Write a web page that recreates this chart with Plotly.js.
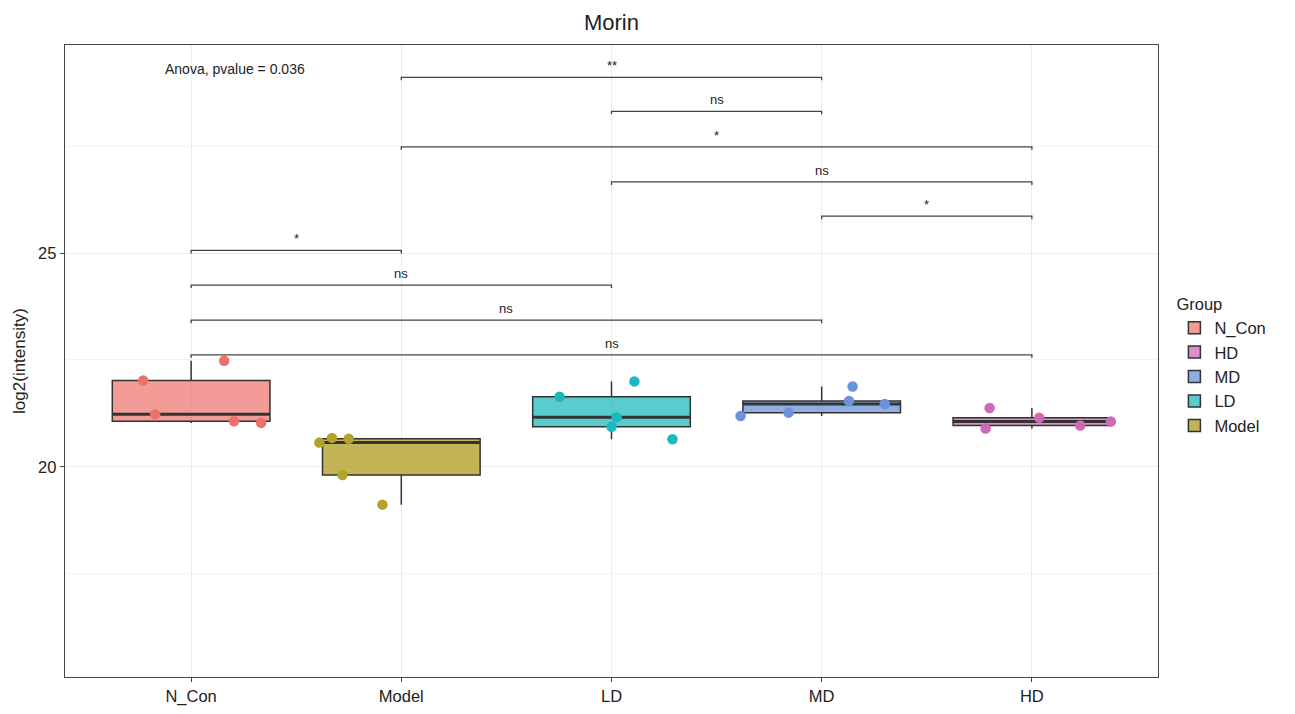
<!DOCTYPE html>
<html>
<head>
<meta charset="utf-8">
<script src="https://cdn.plot.ly/plotly-3.0.1.min.js"></script>
<style>html,body{margin:0;padding:0;background:#fff;}#chart{width:1295px;height:714px;}</style>
</head>
<body>
<div id="chart"></div>
<script>
// Categories on the x axis (display order)
const categories = ['N_Con', 'Model', 'LD', 'MD', 'HD'];
// Legend order
const legendOrder = ['N_Con', 'HD', 'MD', 'LD', 'Model'];

// Observed values (log2 intensity) per group
const nconValues  = [22.48, 22.02, 21.23, 21.07, 21.03];
const modelValues = [20.57, 20.68, 20.66, 19.81, 19.12];
const ldValues    = [21.64, 22.00, 21.16, 20.94, 20.65];
const mdValues    = [21.19, 21.27, 21.54, 21.88, 21.47];
const hdValues    = [21.38, 20.90, 21.15, 20.97, 21.06];

// Horizontal jitter of each point (category units)
const nconJitter  = [0.157, -0.228, -0.171, 0.204, 0.333];
const modelJitter = [-0.39, -0.33, -0.25, -0.28, -0.09];
const ldJitter    = [-0.247, 0.109, 0.024, 0.0, 0.29];
const mdJitter    = [-0.386, -0.158, 0.13, 0.147, 0.30];
const hdJitter    = [-0.201, -0.22, 0.035, 0.23, 0.376];

// Pairwise comparison brackets
const bracketFrom  = ['Model', 'LD', 'Model', 'LD', 'MD', 'N_Con', 'N_Con', 'N_Con', 'N_Con'];
const bracketTo    = ['MD', 'MD', 'HD', 'HD', 'HD', 'Model', 'LD', 'MD', 'HD'];
const bracketY     = [29.105, 28.31, 27.48, 26.66, 25.86, 25.06, 24.25, 23.43, 22.62];
const bracketLabel = ['**', 'ns', '*', 'ns', '*', '*', 'ns', 'ns', 'ns'];

const anovaText = 'Anova, pvalue = 0.036';

const groups = {
  N_Con: {values: nconValues, jitter: nconJitter, color: '#EC716B', fill: 'rgba(236,113,107,0.7)'},
  Model: {values: modelValues, jitter: modelJitter, color: '#B4A22C', fill: 'rgba(180,162,44,0.8)'},
  LD:    {values: ldValues, jitter: ldJitter, color: '#1BB9BE', fill: 'rgba(27,185,190,0.72)'},
  MD:    {values: mdValues, jitter: mdJitter, color: '#6A93D9', fill: 'rgba(106,147,217,0.75)'},
  HD:    {values: hdValues, jitter: hdJitter, color: '#CE69B8', fill: 'rgba(206,105,184,0.75)'}
};

function median(arr) {
  const s = arr.slice().sort(function (a, b) { return a - b; });
  const n = s.length;
  return n % 2 ? s[(n - 1) / 2] : (s[n / 2 - 1] + s[n / 2]) / 2;
}

const FONT = 'Liberation Sans, Arial, Helvetica, sans-serif';
const BOXW = 0.75;
const traces = [];

legendOrder.forEach(function (name, rank) {
  const g = groups[name];
  const idx = categories.indexOf(name);
  traces.push({
    type: 'box',
    name: name,
    x: g.values.map(function () { return idx; }),
    y: g.values,
    width: BOXW,
    boxpoints: false,
    quartilemethod: 'inclusive',
    fillcolor: g.fill,
    line: {color: '#333333', width: 1.5},
    whiskerwidth: 0,
    legendrank: rank + 1,
    hoverinfo: 'y'
  });
});

// thicker median bars (ggplot style)
categories.forEach(function (name) {
  const g = groups[name];
  const idx = categories.indexOf(name);
  const m = median(g.values);
  traces.push({
    type: 'scatter', mode: 'lines',
    x: [idx - BOXW / 2, idx + BOXW / 2], y: [m, m],
    line: {color: '#333333', width: 3},
    showlegend: false, hoverinfo: 'skip'
  });
});

categories.forEach(function (name) {
  const g = groups[name];
  const idx = categories.indexOf(name);
  traces.push({
    type: 'scatter',
    mode: 'markers',
    name: name + ' points',
    x: g.jitter.map(function (j) { return idx + j; }),
    y: g.values,
    marker: {color: g.color, size: 10.5},
    showlegend: false,
    hoverinfo: 'y'
  });
});

const shapes = [];
const annotations = [];
const tick = 0.07;
bracketFrom.forEach(function (from, i) {
  const x1 = categories.indexOf(from);
  const x2 = categories.indexOf(bracketTo[i]);
  const y = bracketY[i];
  shapes.push({
    type: 'path', xref: 'x', yref: 'y',
    path: 'M ' + x1 + ' ' + (y - tick) + ' L ' + x1 + ' ' + y + ' L ' + x2 + ' ' + y + ' L ' + x2 + ' ' + (y - tick),
    line: {color: '#444444', width: 1.3}
  });
  annotations.push({
    x: (x1 + x2) / 2, y: y, xref: 'x', yref: 'y',
    text: bracketLabel[i], showarrow: false,
    yanchor: 'bottom', yshift: 2,
    font: {family: FONT, size: 13, color: '#222222'}
  });
});

annotations.push({
  x: -0.135, y: 29.30, xref: 'x', yref: 'y',
  text: anovaText, showarrow: false,
  xanchor: 'left', yanchor: 'middle',
  font: {family: FONT, size: 14, color: '#222222'}
});

const layout = {
  width: 1295, height: 714,
  margin: {l: 65, r: 137, t: 45, b: 37},
  paper_bgcolor: '#ffffff',
  plot_bgcolor: '#ffffff',
  font: {family: FONT, color: '#222222'},
  title: {text: 'Morin', x: 0.5, xanchor: 'center', xref: 'paper', y: 0.969, yanchor: 'middle',
          font: {family: FONT, size: 22, color: '#222222'}},
  boxmode: 'overlay',
  showlegend: true,
  legend: {
    x: 1.015, xanchor: 'left', y: 0.614, yanchor: 'top',
    title: {text: 'Group', font: {family: FONT, size: 16.5, color: '#222222'}},
    font: {family: FONT, size: 16.5, color: '#222222'},
    tracegroupgap: 0, itemwidth: 30
  },
  xaxis: {
    range: [-0.6, 4.6],
    tickvals: categories.map(function (c, i) { return i; }),
    ticktext: categories,
    showgrid: true, gridcolor: '#EBEBEB', gridwidth: 1,
    zeroline: false,
    showline: true, mirror: true, linecolor: '#444444', linewidth: 1.3,
    ticks: 'outside', ticklen: 4, tickcolor: '#444444',
    tickfont: {family: FONT, size: 16.5, color: '#222222'}
  },
  yaxis: {
    range: [15.093, 29.86],
    tickvals: [20, 25],
    ticktext: ['20', '25'],
    showgrid: true, gridcolor: '#EBEBEB', gridwidth: 1,
    minor: {tickvals: [17.5, 22.5, 27.5], showgrid: true, gridcolor: '#F3F3F3', gridwidth: 1, ticks: ''},
    zeroline: false,
    showline: true, mirror: true, linecolor: '#444444', linewidth: 1.3,
    ticks: 'outside', ticklen: 4, tickcolor: '#444444',
    tickfont: {family: FONT, size: 16.5, color: '#222222'},
    title: {text: 'log2(intensity)', font: {family: FONT, size: 17, color: '#222222'}, standoff: 8}
  },
  shapes: shapes,
  annotations: annotations
};

Plotly.newPlot('chart', traces, layout, {displayModeBar: false, staticPlot: true});
</script>
</body>
</html>
